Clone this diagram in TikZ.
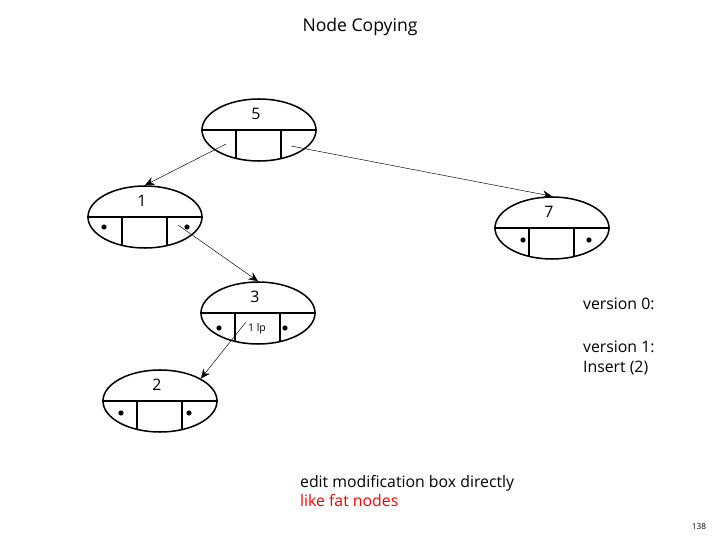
\documentclass[tikz,border=0pt]{standalone}
\usepackage{fontspec}
\setmainfont{Open Sans}
\usetikzlibrary{arrows.meta}
\usetikzlibrary{shapes.geometric}
\usetikzlibrary{calc}

\tikzset{
  fat/.style={draw,line width=1.3pt,ellipse,minimum width=3.42cm,minimum height=1.86cm,inner sep=0pt},
  ptr/.style={-{Stealth[length=8pt,width=7pt]},thin},
  txt/.style={font=\fontsize{13.5}{16.5}\selectfont},
}
% fat node: name, x, y, label
\newcommand{\fatbox}[4]{%
  \node[fat] (#1) at (#2,#3) {};
  \draw[line width=1.3pt] (#1.west) -- (#1.east);
  \draw[line width=1.3pt] ($(#1.center)+(-23,0)$) -- ++(0,28);
  \draw[line width=1.3pt] ($(#1.center)+(22,0)$) -- ++(0,28);
  \node[txt] at ($(#1.center)+(-3,-16)$) {#4};
}

\begin{document}
\begin{tikzpicture}[x=0.03cm,y=-0.03cm]
\useasboundingbox (0,0) rectangle (720,540);

\node[font=\fontsize{15}{18}\selectfont] at (360,27) {Node Copying};

\fatbox{n5}{259}{130}{5}
\fatbox{n1}{145}{217}{1}
\fatbox{n7}{552}{228}{7}
\fatbox{n3}{258}{313}{3}
\fatbox{n2}{160}{401}{2}

% pointer dots
\fill (104,227) circle (2.2pt);
\fill (187,227) circle (2.2pt);
\fill (523,240) circle (2.2pt);
\fill (589,240) circle (2.2pt);
\fill (219,328) circle (2.2pt);
\fill (285,328) circle (2.2pt);
\fill (121,413) circle (2.2pt);
\fill (189,413) circle (2.2pt);
\node[font=\fontsize{9}{10}\selectfont] (lp) at (257,329) {1 lp};

\coordinate (p5l) at (226,144);
\coordinate (p5r) at (291,146);
\coordinate (p1r) at (178,225);
\coordinate (p3m) at (246,322);

\draw[ptr] (p5l) -- (n1.north);
\draw[ptr] (p5r) -- (n7.north);
\draw[ptr] (p1r) -- (n3.north);
\draw[ptr] (p3m) -- (n2.north east);

\node[txt,anchor=west,align=left] (v0) at (579,304) {version 0:};
\node[txt,anchor=north west,align=left] (v1) at (579,337) {version 1:\\Insert (2)};

\node[txt,anchor=north west,align=left] (note) at (296,471) {edit modification box directly\\\textcolor{red}{like fat nodes}};
\node[font=\fontsize{7}{8}\selectfont] (pg) at (699,527) {138};
\end{tikzpicture}
\end{document}
